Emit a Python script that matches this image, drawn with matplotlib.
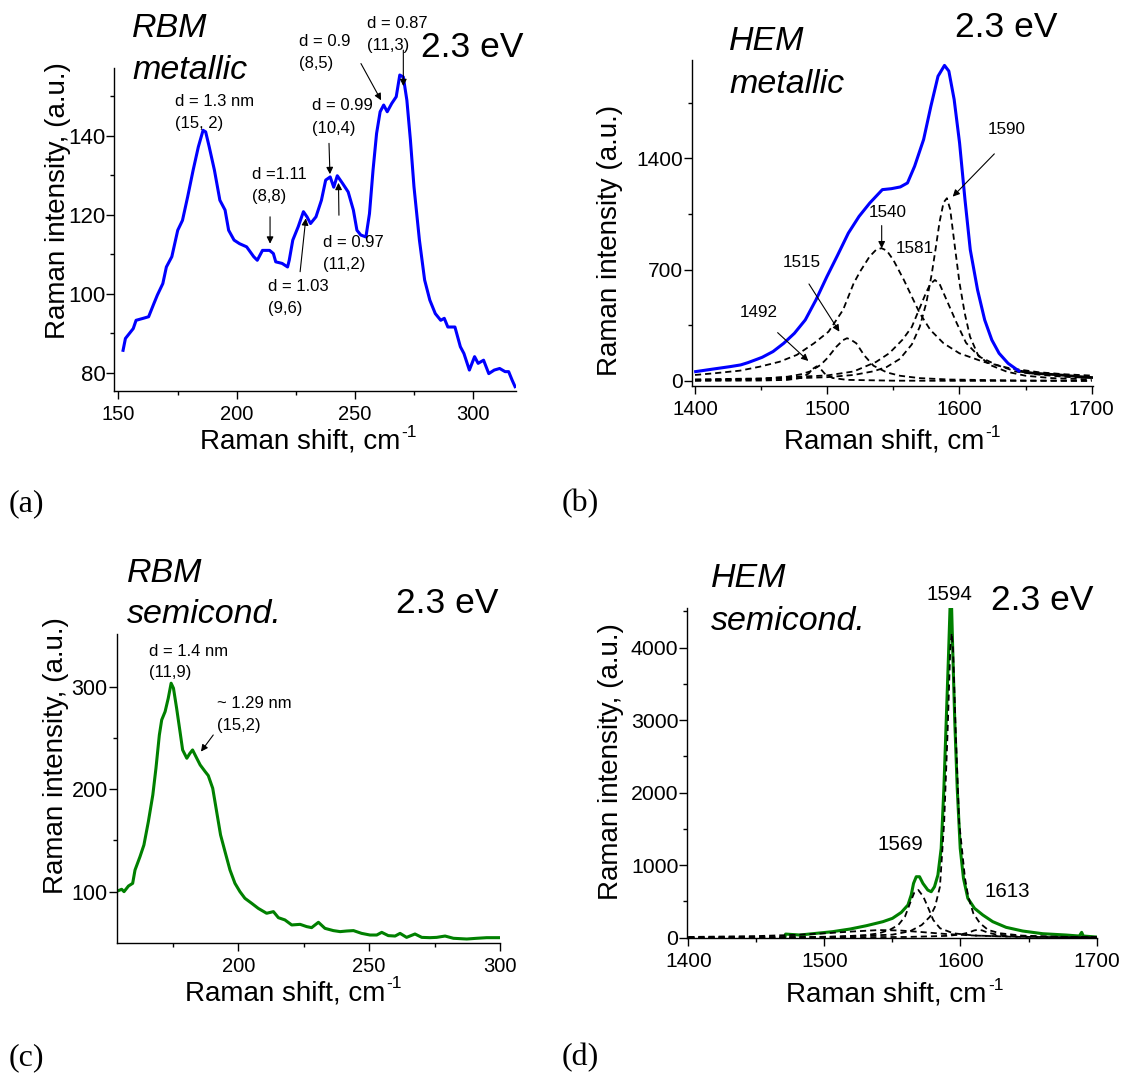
import matplotlib
matplotlib.use("Agg")
import matplotlib.pyplot as plt
from matplotlib.ticker import FixedLocator

plt.rcParams["font.family"] = ["Liberation Sans", "DejaVu Sans"]

# ---------------- data ----------------
# (a) RBM metallic
rbm_metallic = [(152, 85.7), (153, 88.7), (156.3, 91.2), (157.5, 93.3), (160.5, 93.8), (162.8, 94.2),
                (165, 97.5), (166.5, 99.7), (168.8, 102.6), (170.3, 106.8), (172.6, 109.4), (175.1, 116.1),
                (177.1, 118.6), (179.3, 124.6), (181.6, 131.3), (183.8, 137.2), (185.8, 141.4), (186.9, 141),
                (188.4, 137.2), (190.6, 131.3), (192.9, 123.7), (195.1, 121.2), (196.6, 116.1), (198.9, 113.6),
                (201.2, 112.7), (204.2, 111.9), (207.2, 109.4), (208.7, 108.5), (210.9, 111), (213.9, 111),
                (215.5, 110.2), (216.5, 108.1), (219.2, 107.7), (221.5, 106.8), (222.2, 108.5), (223.7, 113.6),
                (226, 117), (228.2, 120.8), (229.7, 119.5), (231.2, 117.8), (233.5, 119.5), (235.8, 123.7),
                (237.6, 128.8), (239.5, 129.6), (241, 127), (242.5, 129.9), (244.8, 127.9), (247.1, 125.8),
                (249.3, 121.2), (250.8, 116.1), (252.4, 114.9), (254.6, 114.4), (256.1, 120.3), (257.6, 131.3),
                (259.1, 140.6), (260.6, 146.1), (262.1, 147.8), (263.6, 146.1), (265.5, 148.2), (267.4, 149.9),
                (268.9, 155.4), (270.4, 154.9), (271.9, 149), (273.4, 138.9), (274.9, 127.1), (277.2, 113.6),
                (279.4, 103.5), (281.6, 98.4), (283.9, 95), (286.2, 93.3), (287.7, 93.8), (289.2, 91.6),
                (292.2, 91.6), (294.5, 86.6), (296, 84.9), (298.3, 80.7), (300.5, 84.1), (302, 82.4),
                (304.3, 83.2), (306.5, 79.8), (308.8, 80.7), (311.1, 81.1), (313.4, 80.3), (314.9, 80.3),
                (316.4, 78.1), (317.6, 76.5)]

# (b) HEM metallic: measured curve and fitted components
hem_metallic = [(1400.5, 59), (1412.8, 74), (1426.3, 90), (1434.5, 101), (1439.9, 115), (1446.7, 136),
                (1450.8, 149), (1459, 185), (1467.1, 237), (1475.2, 300), (1483.4, 384), (1491.5, 510),
                (1499.7, 655), (1507.8, 790), (1516, 930), (1524.1, 1035), (1532.2, 1119), (1541.7, 1203),
                (1548.5, 1209), (1555.3, 1220), (1560.7, 1245), (1566.1, 1350), (1572.9, 1518), (1578.4, 1727),
                (1583.8, 1916), (1588.7, 1984), (1592, 1948), (1596, 1770), (1600.1, 1497), (1604.2, 1140),
                (1608.2, 825), (1613.7, 573), (1619.1, 384), (1624.5, 258), (1630, 174), (1636.8, 111),
                (1644.9, 63)]
hem_metallic_tail = [(1644.9, 63), (1655, 50), (1665, 44), (1676, 38), (1690, 28), (1700, 22)]
comp_1540 = [(1400, 38), (1414, 48), (1434, 65), (1449, 90), (1464, 121), (1477, 164), (1490, 237),
             (1501, 310), (1512, 447), (1520, 614), (1525, 690), (1532, 782), (1537, 825), (1541, 835),
             (1545, 820), (1550, 761), (1558, 635), (1564, 530), (1570, 426), (1578, 321), (1588, 237),
             (1600, 174), (1618, 121), (1638, 80), (1660, 55), (1680, 42), (1700, 34)]
comp_1590 = [(1400, 5), (1450, 10), (1500, 24), (1520, 38), (1535, 61), (1545, 88), (1555, 139),
             (1564, 230), (1570, 341), (1575, 493), (1579, 670), (1582, 832), (1585, 1001), (1588, 1122),
             (1590.5, 1149), (1593, 1080), (1596, 880), (1600, 620), (1604, 426), (1608, 279), (1614, 164),
             (1623, 101), (1636, 58), (1650, 33), (1670, 18), (1700, 10)]
comp_1581 = [(1400, 10), (1450, 16), (1500, 35), (1520, 60), (1537, 120), (1547, 175), (1557, 260),
             (1564, 340), (1568, 420), (1572, 500), (1575, 560), (1578, 610), (1581.5, 635), (1585, 610),
             (1590, 515), (1598, 363), (1605, 240), (1615, 153), (1628, 101), (1643, 59), (1660, 40),
             (1680, 26), (1700, 20)]
comp_1515 = [(1400, 5), (1450, 14), (1470, 27), (1480, 42), (1487, 60), (1495, 101), (1500, 143),
             (1507, 216), (1512, 257), (1515, 269), (1518, 259), (1522, 237), (1528, 161), (1535, 96),
             (1545, 54), (1555, 33), (1570, 18), (1593, 9), (1650, 3), (1700, 2)]
comp_1492 = [(1400, 1), (1450, 3), (1470, 7), (1480, 19), (1486, 47), (1489, 76), (1492, 92), (1495, 76),
             (1498, 47), (1504, 19), (1515, 7), (1550, 2), (1600, 1), (1700, 0.5)]

# (c) RBM semiconducting
rbm_semicond = [(153.8, 100.6), (155.4, 102.3), (156.3, 100), (158, 105.5), (159.6, 108.1), (160.5, 121.1),
                (162.4, 134.1), (163.9, 145.5), (165.6, 168.3), (167.3, 194.3), (168.5, 220.3), (169.8, 252.8),
                (170.7, 267.5), (172, 275.6), (173.2, 288.6), (174.3, 303.3), (175.2, 298.4), (176.4, 278.9),
                (177.7, 256.1), (178.7, 238.2), (180.3, 230.1), (181.5, 235), (182.5, 238.2), (184.1, 230.1),
                (185.4, 223.6), (187.3, 217.1), (188.5, 213.2), (190.2, 200.8), (191.7, 178), (193.2, 155.3),
                (194.9, 139), (196.8, 121.1), (198.7, 108.1), (200.6, 100), (202.5, 93.5), (205.1, 88.6),
                (207.6, 83.7), (210.8, 78.9), (213.4, 80.5), (215.3, 74.6), (217.8, 72.4), (220.4, 67.5),
                (223.6, 68.1), (226.1, 65.9), (228, 64.9), (230.6, 70.1), (233.1, 64.2), (236.3, 62),
                (238.9, 61), (241.4, 61.6), (244, 62), (247.1, 59.3), (250.3, 57.7), (252.9, 57.7),
                (254.8, 60.3), (257.3, 57.1), (259.9, 56.7), (261.8, 59.3), (264.3, 55.4), (267.5, 58.7),
                (270.1, 55.4), (273.2, 55.1), (275.8, 55.4), (279, 56.7), (282.2, 54.5), (287.3, 53.8),
                (291.1, 54.5), (294.9, 55.1), (300, 55.1)]

# (d) HEM semiconducting: measured curve and fitted components
hem_semicond = [(1471, 5), (1471.5, 50), (1482, 37), (1494, 60), (1506, 83), (1519, 120), (1531, 166),
                (1543, 221), (1550, 267), (1556.5, 349), (1561.4, 451), (1563.8, 589), (1565.5, 749),
                (1567.5, 841), (1569.9, 841), (1572.4, 749), (1576, 657), (1578.5, 634), (1580.9, 703),
                (1583.4, 864), (1585.8, 1232), (1587.8, 2060), (1589.5, 2979), (1591.2, 3899), (1592.4, 4600),
                (1593.4, 4600), (1594.4, 3899), (1595.8, 2979), (1597.6, 2060), (1599.8, 1232), (1602.2, 818),
                (1605.4, 543), (1610.3, 405), (1616.4, 313), (1623.7, 221), (1633.5, 143), (1645.7, 92),
                (1660.4, 55), (1677.5, 37), (1687.3, 23), (1689, 74), (1690.2, 23), (1700, 9)]
comp_1594 = [(1400, 2), (1500, 9), (1550, 42), (1563, 90), (1571.5, 175), (1577.6, 290), (1581.3, 428),
             (1584.9, 703), (1588, 1593), (1590.5, 2825), (1592.5, 3985), (1593.5, 4200), (1594.5, 3985),
             (1596.5, 2825), (1599, 1593), (1603.3, 820), (1605.7, 566), (1609.4, 337), (1614.3, 199),
             (1620.4, 106), (1629, 61), (1645, 29), (1670, 13), (1700, 7)]
comp_1569 = [(1400, 2), (1480, 7), (1511, 16), (1530, 35), (1540, 60), (1548, 108), (1554.3, 175),
             (1559.2, 290), (1562.9, 474), (1566, 620), (1569, 658), (1572.7, 566), (1576.4, 406),
             (1580, 244), (1585, 130), (1594.7, 61), (1610, 30), (1640, 12), (1700, 5)]
comp_1613 = [(1400, 1), (1560, 10), (1590, 25), (1600, 45), (1606, 70), (1610, 100), (1613, 110),
             (1616, 100), (1620, 70), (1626, 45), (1640, 20), (1700, 5)]
comp_broad = [(1400, 10), (1450, 22), (1480, 40), (1500, 60), (1520, 85), (1540, 105), (1555, 100),
              (1570, 80), (1590, 50), (1610, 30), (1640, 15), (1700, 6)]

# ---------------- figure ----------------
W, H = 1124, 1075
fig = plt.figure(figsize=(W / 100, H / 100), dpi=100)
renderer = fig.canvas.get_renderer()


def rect(l, t, r, b):
    return [l / W, 1 - b / H, (r - l) / W, (b - t) / H]


def ftext(x, y, s, **kw):
    return fig.text(x / W, 1 - y / H, s, **kw)


def xy(pts):
    return [p[0] for p in pts], [p[1] for p in pts]


def style(ax, xlim, ylim, xmaj, xmin, ymaj, ymin, xfs=14.5, yfs=15.5):
    ax.set_xlim(*xlim)
    ax.set_ylim(*ylim)
    ax.xaxis.set_major_locator(FixedLocator(xmaj))
    ax.xaxis.set_minor_locator(FixedLocator(xmin))
    ax.yaxis.set_major_locator(FixedLocator(ymaj))
    ax.yaxis.set_minor_locator(FixedLocator(ymin))
    for s in ("top", "right"):
        ax.spines[s].set_visible(False)
    for s in ("left", "bottom"):
        ax.spines[s].set_linewidth(1.0)
    ax.tick_params(which="major", direction="out", length=5.5, width=1.0)
    ax.tick_params(which="minor", direction="out", length=3.0, width=1.0)
    ax.tick_params(axis="x", which="major", pad=4.5, labelsize=xfs)
    ax.tick_params(axis="y", which="major", pad=1.0, labelsize=yfs)
    ax.patch.set_alpha(0)


def arrow(ax, head, tail):
    ax.annotate("", xy=head, xytext=tail, xycoords="data", textcoords="data",
                arrowprops=dict(arrowstyle="-|>", color="black", lw=0.8, mutation_scale=10,
                                shrinkA=0, shrinkB=0),
                annotation_clip=False)


LABEL_FS = 20
SUP_FS = 12.5


def shift_label(cx, base):
    """'Raman shift, cm' with a raised '-1', centred on cx (pixels from left)."""
    t1 = ftext(0, base, "Raman shift, cm", fontsize=LABEL_FS, va="baseline", ha="left")
    t2 = ftext(0, base - 11.5, "-1", fontsize=SUP_FS, va="baseline", ha="left")
    w1 = t1.get_window_extent(renderer).width
    w2 = t2.get_window_extent(renderer).width
    gap = 1.5
    left = cx - (w1 + gap + w2) / 2
    t1.set_x(left / W)
    t2.set_x((left + w1 + gap) / W)


BLUE = "#0000ff"
GREEN = "#008000"
DASH = dict(color="black", lw=1.3, dashes=(3.4, 2.2))
TITLE = dict(fontsize=24.5, style="italic", va="baseline", ha="left")
EV = dict(fontsize=25.5, va="baseline", ha="left")
LAB = dict(fontsize=LABEL_FS)
ANN = dict(fontsize=12, va="center", ha="left")
PANEL = dict(fontsize=23, family="Liberation Serif", va="baseline", ha="left")

# ----- (a) -----
axa = fig.add_axes(rect(114.3, 68.3, 516, 391))
x, y = xy(rbm_metallic)
axa.plot(x, y, color=BLUE, lw=2.2)
style(axa, (148.3, 318), (75.4, 157.1), [150, 200, 250, 300], [175, 225, 275],
      [80, 100, 120, 140], [90, 110, 130, 150], xfs=14.5, yfs=16)
arrow(axa, (214.1, 112.7), (214.1, 119.5))
arrow(axa, (229.2, 119.1), (226.8, 105.6))
arrow(axa, (239.4, 130.3), (239.0, 138.1))
arrow(axa, (243.0, 128.1), (243.2, 119.9))
arrow(axa, (261.0, 149.0), (252.5, 158.3))
arrow(axa, (270.4, 152.6), (270.4, 161.7))
ftext(132.3, 36.7, "RBM", **TITLE)
ftext(132.3, 79.3, "metallic", **TITLE)
ftext(420.7, 56.7, "2.3 eV", **EV)
for tx, ty, s in [(175, 101.7, "d = 1.3 nm"), (175, 123.3, "(15, 2)"),
                  (251.7, 174.3, "d =1.11"), (251.7, 196.7, "(8,8)"),
                  (268.3, 286.7, "d = 1.03"), (268.3, 308.3, "(9,6)"),
                  (312.3, 106, "d = 0.99"), (312.3, 128.3, "(10,4)"),
                  (323.3, 242.3, "d = 0.97"), (323.3, 265, "(11,2)"),
                  (299, 41.7, "d = 0.9"), (299, 63.3, "(8,5)"),
                  (366.7, 23.7, "d = 0.87"), (367.3, 45.3, "(11,3)")]:
    ftext(tx, ty, s, **ANN)
ftext(58.3, 200.8, "Raman intensity, (a.u.)", rotation=90, ha="center", va="center", **LAB)
shift_label(308.3, 448.3)
ftext(8.3, 511.7, "(a)", **PANEL)

# ----- (b) -----
axb = fig.add_axes(rect(691.7, 60, 1092.7, 385.7))
for comp in (comp_1540, comp_1590, comp_1581, comp_1515, comp_1492):
    x, y = xy(comp)
    axb.plot(x, y, **DASH)
x, y = xy(hem_metallic_tail)
axb.plot(x, y, color="black", lw=2.0)
x, y = xy(hem_metallic)
axb.plot(x, y, color=BLUE, lw=2.2)
style(axb, (1397.5, 1700.8), (-29.6, 2018), [1400, 1500, 1600, 1700], [1450, 1550, 1650],
      [0, 700, 1400], [350, 1050, 1750], xfs=14.8, yfs=15)
arrow(axb, (1594.9, 1159), (1626.4, 1428))
arrow(axb, (1541.2, 834), (1541.2, 977))
arrow(axb, (1509.2, 310), (1486.2, 610))
arrow(axb, (1485.7, 126), (1462.5, 304))
ftext(729.3, 50, "HEM", **TITLE)
ftext(729.3, 92.7, "metallic", **TITLE)
ftext(955, 36.7, "2.3 eV", **EV)
for tx, ty, s in [(987.7, 129.3, "1590"), (868.3, 212.3, "1540"), (896, 248.3, "1581"),
                  (782.7, 262.3, "1515"), (739.3, 312.3, "1492")]:
    ftext(tx, ty, s, fontsize=12.3, va="center", ha="left")
ftext(610.4, 240.8, "Raman intensity (a.u.)", rotation=90, ha="center", va="center", **LAB)
shift_label(892.5, 448.3)
ftext(562, 511.7, "(b)", **PANEL)

# ----- (c) -----
axc = fig.add_axes(rect(116.7, 634.3, 500, 942.7))
x, y = xy(rbm_semicond)
axc.plot(x, y, color=GREEN, lw=2.2)
style(axc, (153.5, 300), (50.2, 351), [200, 250, 300], [175, 225, 275],
      [100, 200, 300], [150, 250], xfs=14.5, yfs=15.5)
arrow(axc, (185.7, 236.6), (190.4, 252.8))
ftext(126.7, 581.7, "RBM", **TITLE)
ftext(126.7, 623.3, "semicond.", **TITLE)
ftext(396, 613.3, "2.3 eV", **EV)
for tx, ty, s in [(149.3, 651, "d = 1.4 nm"), (149.3, 672.3, "(11,9)"),
                  (216.7, 704, "~ 1.29 nm"), (216.7, 725.7, "(15,2)")]:
    ftext(tx, ty, s, **ANN)
ftext(55.8, 755.8, "Raman intensity, (a.u.)", rotation=90, ha="center", va="center", **LAB)
shift_label(293.3, 1000)
ftext(8.3, 1065, "(c)", **PANEL)

# ----- (d) -----
axd = fig.add_axes(rect(687.3, 608.3, 1097.3, 937.7))
x, y = xy(hem_semicond)
axd.plot(x, y, color=GREEN, lw=2.2)
for comp in (comp_broad, comp_1569, comp_1594, comp_1613):
    x, y = xy(comp)
    axd.plot(x, y, **DASH)
style(axd, (1399.3, 1700.5), (0, 4543), [1400, 1500, 1600, 1700], [1450, 1550, 1650],
      [0, 1000, 2000, 3000, 4000], [500, 1500, 2500, 3500, 4500], xfs=15, yfs=15.3)
ftext(710.7, 586.7, "HEM", **TITLE)
ftext(710.7, 630, "semicond.", **TITLE)
ftext(990.7, 610, "2.3 eV", **EV)
for tx, ty, s in [(926, 594.3, "1594"), (877.3, 845, "1569"), (985, 891.7, "1613")]:
    ftext(tx, ty, s, fontsize=14.8, va="center", ha="left")
ftext(611, 761.8, "Raman intensity, (a.u.)", rotation=90, ha="center", va="center", **LAB)
shift_label(895, 1001.7)
ftext(562, 1065, "(d)", **PANEL)

fig.savefig("out.png", dpi=100, facecolor="white")
